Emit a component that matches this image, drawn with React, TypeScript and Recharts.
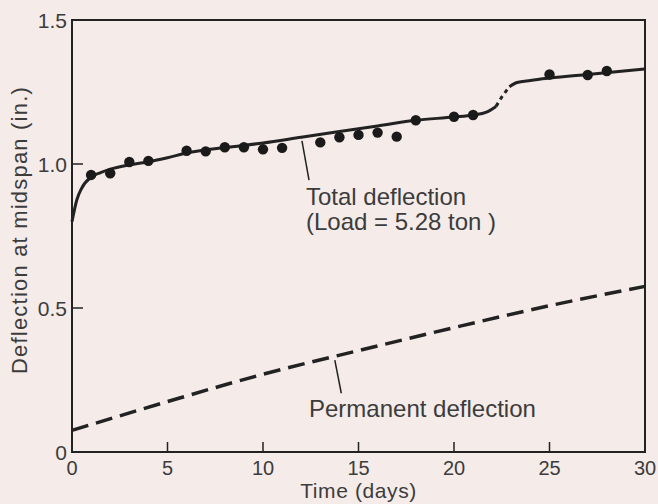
import {
  ComposedChart,
  Line,
  Scatter,
  XAxis,
  YAxis,
  ZAxis,
  ReferenceArea,
  ReferenceLine,
  ReferenceDot,
} from "recharts";

const BG = "#f5ebe9";
const INK = "#222222";
const TEXT = "#3c3c3c";
const FONT = "'Liberation Sans', Arial, sans-serif";

const xTicks = [0, 5, 10, 15, 20, 25, 30];
const yTicks = [0, 0.5, 1.0, 1.5];

// measured total deflection (dots)
const measuredDays = [1, 2, 3, 4, 6, 7, 8, 9, 10, 11, 13, 14, 15, 16, 17, 18, 20, 21, 25, 27, 28];
const measuredDefl = [
  0.962, 0.968, 1.007, 1.011, 1.046, 1.044, 1.058, 1.058, 1.051, 1.056, 1.075, 1.093, 1.101,
  1.109, 1.095, 1.152, 1.164, 1.17, 1.311, 1.309, 1.323,
];

// fitted total deflection curve, before the load step
const totalDays = [0, 0.25, 0.5, 1, 1.5, 2, 3, 4, 5, 6, 8, 10, 12, 14, 16, 18, 20, 21, 21.7, 22.2];
const totalDefl = [
  0.8, 0.875, 0.915, 0.955, 0.97, 0.982, 0.997, 1.008, 1.022, 1.038, 1.057, 1.073, 1.093, 1.113,
  1.132, 1.152, 1.163, 1.17, 1.18, 1.2,
];

// dotted step
const stepDays = [22.2, 22.55, 22.9];
const stepDefl = [1.2, 1.237, 1.268];

// after the step
const afterDays = [22.9, 23.3, 24, 25, 27, 30];
const afterDefl = [1.268, 1.283, 1.29, 1.298, 1.311, 1.33];

// permanent deflection (dashed)
const permDays = [0, 5, 10, 15, 20, 25, 30];
const permDefl = [0.075, 0.175, 0.27, 0.352, 0.432, 0.508, 0.575];

const toPoints = (xs: number[], ys: number[]) => xs.map((x, i) => ({ x, y: ys[i] }));

const measured = toPoints(measuredDays, measuredDefl);
const total = toPoints(totalDays, totalDefl);
const step = toPoints(stepDays, stepDefl);
const after = toPoints(afterDays, afterDefl);
const permanent = toPoints(permDays, permDefl);

const X_GAP = 10;
const Y_GAP = 5;

function XTick({ x, y, payload }: any) {
  const axisY = y - X_GAP;
  const v = payload.value;
  return (
    <g>
      {v > 0 && v < 30 && (
        <line x1={x} x2={x} y1={axisY} y2={axisY - 10} stroke={INK} strokeWidth={1.5} />
      )}
      <text x={x} y={axisY + 23} textAnchor="middle" fill={TEXT} fontSize={20} fontFamily={FONT}>
        {v}
      </text>
    </g>
  );
}

function YTick({ x, y, payload }: any) {
  const axisX = x + Y_GAP;
  const v = payload.value;
  return (
    <g>
      {v > 0 && v < 1.5 && (
        <line x1={axisX} x2={axisX + 11} y1={y} y2={y} stroke={INK} strokeWidth={1.5} />
      )}
      <text x={axisX - 5} y={y + 8} textAnchor="end" fill={TEXT} fontSize={21} fontFamily={FONT}>
        {v === 0 ? "0" : v.toFixed(1)}
      </text>
    </g>
  );
}

const note = (label: string) => (p: any) => (
  <text x={p.cx} y={p.cy} fill={TEXT} fontSize={24} fontFamily={FONT}>
    {label}
  </text>
);

export default function App() {
  return (
    <div style={{ position: "absolute", left: 0, top: 0, width: 658, height: 504, background: BG }}>
      <ComposedChart width={658} height={504} margin={{ top: 20, right: 13, left: 0, bottom: 0 }}>
        <XAxis
          type="number"
          dataKey="x"
          domain={[0, 30]}
          ticks={xTicks}
          height={52}
          tickSize={0}
          tickMargin={X_GAP}
          tick={<XTick />}
          axisLine={{ stroke: INK, strokeWidth: 2 }}
          tickLine={false}
          label={({ viewBox }: any) => (
            <text
              x={viewBox.x + viewBox.width / 2}
              y={viewBox.y + 46}
              textAnchor="middle"
              fill={TEXT}
              fontSize={21}
              fontFamily={FONT}
              letterSpacing={0.6}
            >
              Time (days)
            </text>
          )}
        />
        <YAxis
          type="number"
          dataKey="y"
          domain={[0, 1.5]}
          ticks={yTicks}
          width={72}
          tickSize={0}
          tickMargin={Y_GAP}
          tick={<YTick />}
          axisLine={{ stroke: INK, strokeWidth: 2 }}
          tickLine={false}
          label={({ viewBox }: any) => {
            const cx = viewBox.x + 27;
            const cy = viewBox.y + viewBox.height / 2 - 6;
            return (
              <text
                x={cx}
                y={cy}
                transform={`rotate(-90 ${cx} ${cy})`}
                textAnchor="middle"
                fill={TEXT}
                fontSize={22}
                fontFamily={FONT}
                letterSpacing={1.2}
              >
                Deflection at midspan (in.)
              </text>
            );
          }}
        />
        <ZAxis range={[85, 85]} />
        <ReferenceArea x1={0} x2={30} y1={0} y2={1.5} fill="none" stroke={INK} strokeWidth={2} />

        <Line data={permanent} dataKey="y" type="monotone" stroke={INK} strokeWidth={3.5}
          strokeDasharray="17 8" dot={false} isAnimationActive={false} />
        <Line data={total} dataKey="y" type="monotone" stroke={INK} strokeWidth={3}
          dot={false} isAnimationActive={false} />
        <Line data={step} dataKey="y" type="monotone" stroke={INK} strokeWidth={3}
          strokeDasharray="4 4" dot={false} isAnimationActive={false} />
        <Line data={after} dataKey="y" type="monotone" stroke={INK} strokeWidth={3}
          dot={false} isAnimationActive={false} />
        <Scatter data={measured} dataKey="y" fill="#1a1a1a" shape="circle" isAnimationActive={false} />

        <ReferenceLine segment={[{ x: 12.04, y: 1.08 }, { x: 12.41, y: 0.944 }]} stroke={INK} strokeWidth={1.5} />
        <ReferenceLine segment={[{ x: 13.76, y: 0.319 }, { x: 14.1, y: 0.204 }]} stroke={INK} strokeWidth={1.5} />
        <ReferenceDot x={12.25} y={0.858} r={0} shape={note("Total deflection")} />
        <ReferenceDot x={12.25} y={0.771} r={0} shape={note("(Load = 5.28 ton )")} />
        <ReferenceDot x={12.41} y={0.122} r={0} shape={note("Permanent deflection")} />
      </ComposedChart>
    </div>
  );
}
